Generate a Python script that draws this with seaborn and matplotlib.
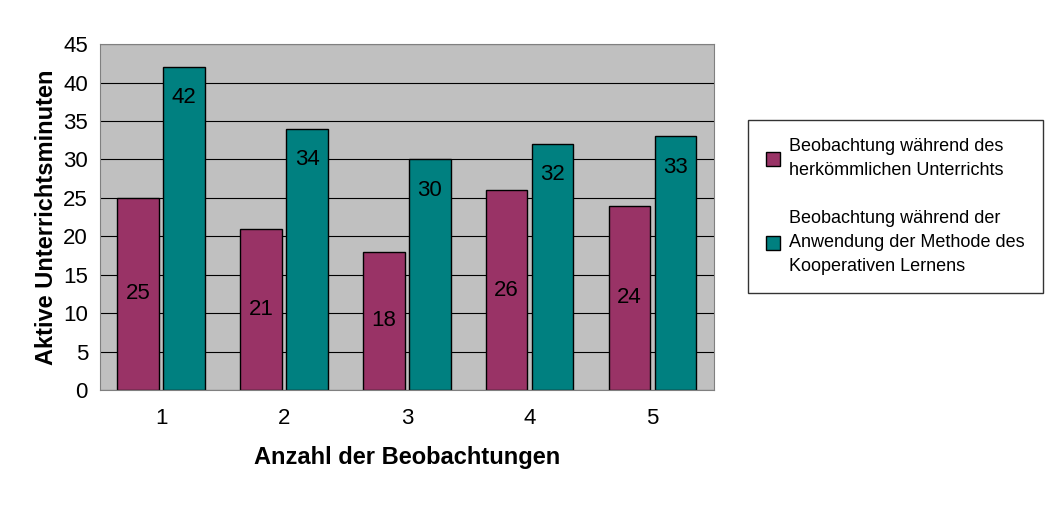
import matplotlib
matplotlib.use("Agg")
from matplotlib import pyplot as plt
import pandas as pd
import seaborn as sns

beobachtungen = ["1", "2", "3", "4", "5"]
herkoemmlich = [25, 21, 18, 26, 24]
kooperativ = [42, 34, 30, 32, 33]
serien = ["Beobachtung während des\nherkömmlichen Unterrichts",
          "Beobachtung während der\nAnwendung der Methode des\nKooperativen Lernens"]
farben = ["#993366", "#008080"]

df = pd.DataFrame({
    "Beobachtung": beobachtungen * 2,
    "Minuten": herkoemmlich + kooperativ,
    "Serie": [serien[0]] * 5 + [serien[1]] * 5,
})

sns.set_style("whitegrid")
plt.rcParams["font.family"] = ["Liberation Sans", "DejaVu Sans"]
plt.rcParams["text.color"] = "black"
plt.rcParams["axes.labelcolor"] = "black"
plt.rcParams["xtick.color"] = "black"
plt.rcParams["ytick.color"] = "black"

f, ax = plt.subplots(figsize=(10.5, 5.2), dpi=100)
f.subplots_adjust(left=0.095, right=0.68, top=0.915, bottom=0.25)
ax.set_facecolor("#C0C0C0")
ax = sns.barplot(data=df, x="Beobachtung", y="Minuten", hue="Serie",
                 palette=farben, saturation=1, edgecolor="black", linewidth=1,
                 width=0.75, gap=0.1, ax=ax)

for cont, vals, mode in zip(ax.containers, [herkoemmlich, kooperativ], ["mid", "top"]):
    for bar, v in zip(cont, vals):
        cx = bar.get_x() + bar.get_width() / 2
        y = v / 2 if mode == "mid" else v - 4
        ax.text(cx, y, str(v), ha="center", va="center", fontsize=16, color="black")

ax.set_ylim(0, 45)
ax.set_yticks(range(0, 46, 5))
ax.grid(axis="y", color="black", linewidth=0.8)
ax.grid(axis="x", visible=False)
ax.set_axisbelow(True)
for s in ax.spines.values():
    s.set_color("#808080")
ax.tick_params(axis="both", labelsize=16, length=5, color="black")
ax.tick_params(axis="x", pad=8)
ax.set_ylabel("Aktive Unterrichtsminuten", fontsize=17, fontweight="bold")
ax.set_xlabel("Anzahl der Beobachtungen", fontsize=17, fontweight="bold", labelpad=12)

leg = ax.legend(loc="center left", bbox_to_anchor=(1.04, 0.53), frameon=True,
                fontsize=13, fancybox=False, edgecolor="black",
                handlelength=0.8, handleheight=0.8, labelspacing=1.7,
                borderpad=1.0, handletextpad=0.5)
leg.get_frame().set_linewidth(1)
for t in leg.get_texts():
    t.set_linespacing(1.55)
    t.set_color("black")
for h in leg.legend_handles:
    h.set_edgecolor("black")

plt.savefig("out.png", dpi=100)
